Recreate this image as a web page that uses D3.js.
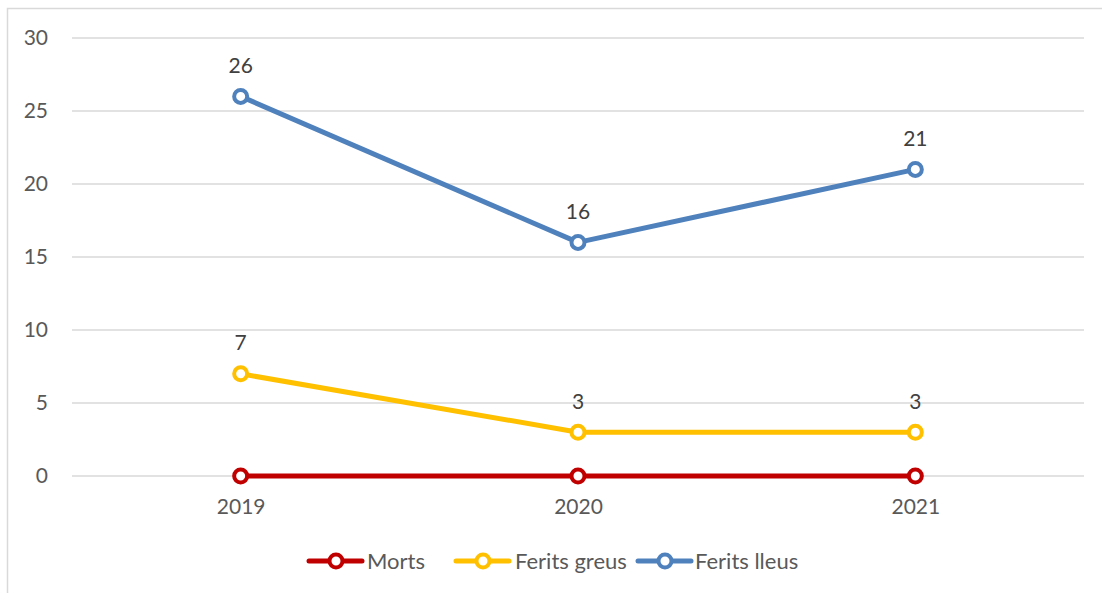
<!DOCTYPE html>
<html><head><meta charset="utf-8">
<script src="https://cdn.jsdelivr.net/npm/d3@7"></script>
<style>body{margin:0;background:#fff;} svg{display:block;font-family:Lato,"Open Sans",sans-serif;}</style>
</head><body>
<svg id="c" width="1102" height="593"></svg>
<script>
const categories = ["2019", "2020", "2021"];
const seriesNames = ["Morts", "Ferits greus", "Ferits lleus"];
const morts = [0, 0, 0];
const feritsGreus = [7, 3, 3];
const feritsLleus = [26, 16, 21];
const yTicks = [0, 5, 10, 15, 20, 25, 30];
const colors = ["#C00000", "#FFC000", "#4F81BD"];

const series = [
  {name: seriesNames[0], values: morts, color: colors[0]},
  {name: seriesNames[1], values: feritsGreus, color: colors[1]},
  {name: seriesNames[2], values: feritsLleus, color: colors[2]}
];

const svg = d3.select("#c");
svg.append("rect").attr("x", 7.5).attr("y", 8.5).attr("width", 1200).attr("height", 700)
  .attr("fill", "#fff").attr("stroke", "#d9d9d9").attr("stroke-width", 1.5);

const x = d3.scalePoint().domain(categories).range([72, 1084]).padding(0.5);
const y = d3.scaleLinear().domain([0, 30]).range([476, 38]);

// gridlines
svg.append("g").selectAll("line").data(yTicks).join("line")
  .attr("x1", 72).attr("x2", 1084)
  .attr("y1", d => y(d)).attr("y2", d => y(d))
  .attr("stroke", "#d9d9d9").attr("stroke-width", 1.3);

// y axis labels
const yAxis = d3.axisLeft(y).tickValues(yTicks).tickSize(0).tickPadding(0);
const gy = svg.append("g").attr("transform", "translate(48,0)").call(yAxis);
gy.select(".domain").remove();
gy.selectAll("text").attr("font-size", 21).attr("fill", "#595959").attr("font-family", "Lato, sans-serif");

// x axis labels
const xAxis = d3.axisBottom(x).tickSize(0).tickPadding(0);
const gx = svg.append("g").attr("transform", "translate(0,499)").call(xAxis);
gx.select(".domain").remove();
gx.selectAll("text").attr("font-size", 21).attr("fill", "#595959").attr("font-family", "Lato, sans-serif");

const line = d3.line().x((d, i) => x(categories[i])).y(d => y(d));

series.forEach(s => {
  const g = svg.append("g");
  g.append("path").datum(s.values).attr("d", line)
    .attr("fill", "none").attr("stroke", s.color).attr("stroke-width", 5)
    .attr("stroke-linejoin", "round").attr("stroke-linecap", "round");
  g.selectAll("circle").data(s.values).join("circle")
    .attr("cx", (d, i) => x(categories[i])).attr("cy", d => y(d))
    .attr("r", 6.5).attr("fill", "#fff").attr("stroke", s.color).attr("stroke-width", 4);
  if (s.name !== "Morts") {
    g.selectAll("text").data(s.values).join("text")
      .attr("x", (d, i) => x(categories[i])).attr("y", d => y(d) - 23.5)
      .attr("text-anchor", "middle").attr("font-size", 21).attr("fill", "#404040")
      .text(d => d);
  }
});

// legend
const legendItems = [
  {lx: 309, tx: 367},
  {lx: 456, tx: 515},
  {lx: 638, tx: 695}
];
const ly = 561;
series.forEach((s, i) => {
  const it = legendItems[i];
  const g = svg.append("g");
  g.append("line").attr("x1", it.lx).attr("x2", it.lx + 53).attr("y1", ly).attr("y2", ly)
    .attr("stroke", s.color).attr("stroke-width", 5).attr("stroke-linecap", "round");
  g.append("circle").attr("cx", it.lx + 27).attr("cy", ly).attr("r", 6.5)
    .attr("fill", "#fff").attr("stroke", s.color).attr("stroke-width", 4);
  g.append("text").attr("x", it.tx).attr("y", ly + 7.5).attr("font-size", 22)
    .attr("fill", "#595959").text(s.name);
});
</script>
</body></html>
